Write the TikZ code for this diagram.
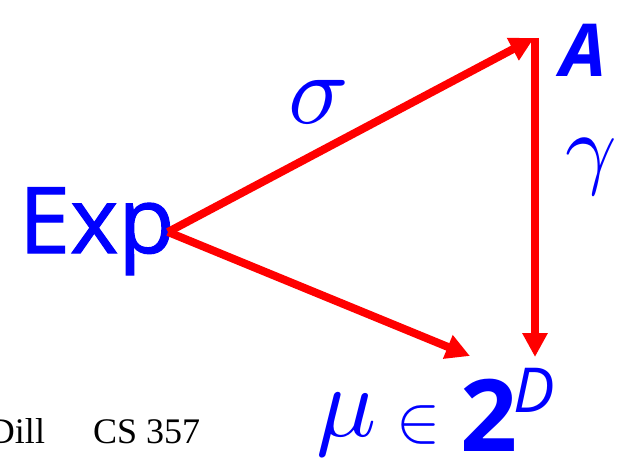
\documentclass[tikz,border=0pt]{standalone}
\usepackage{unicode-math}
\setmainfont{Liberation Serif}
\setmathfont{Latin Modern Math}
\newfontfamily\comic{Open Sans}
\newfontfamily\comicfb[FakeBold=1.2]{Open Sans}
\usetikzlibrary{arrows.meta}
\definecolor{myblue}{RGB}{0,0,255}
\definecolor{myred}{RGB}{255,0,0}
\tikzset{
  arr/.style={draw=myred, line width=8pt, -{Triangle[length=24pt,width=24pt]}},
  lbl/.style={inner sep=0pt, outer sep=0pt, text=myblue},
  foot/.style={inner sep=0pt, outer sep=0pt, text=black, font=\fontsize{36}{38}\selectfont}
}
\begin{document}
\begin{tikzpicture}[x=1pt,y=-1pt]
\useasboundingbox (0,0) rectangle (617,457);
\node[lbl, anchor=base west, font=\comicfb\fontsize{92}{96}\selectfont] (exp) at (19,253) {Exp};
\node[lbl, anchor=base west, font=\comic\bfseries\itshape\fontsize{73}{76}\selectfont] (A) at (560,77) {A};
\node[lbl] (sigma) at (318,103) {\fontsize{100}{100}\selectfont$\sigma$};
\node[lbl, anchor=base west] (gamma) at (565,177) {\fontsize{90}{90}\selectfont$\gamma$};
\node[lbl, anchor=base west] (mu) at (316,436) {\fontsize{100}{100}\selectfont$\mu$};
\node[lbl, anchor=base west] (in) at (396,441) {\fontsize{66}{66}\selectfont$\in$};
\node[lbl, anchor=base west, font=\comic\bfseries\fontsize{100}{100}\selectfont] (two) at (460,451) {2};
\node[lbl, anchor=base west, font=\comic\itshape\fontsize{62}{62}\selectfont] (D) at (513,412) {D};
\node[foot, anchor=base east] (dill) at (45,443) {Dill};
\node[foot, anchor=base west] (cs) at (93,443) {CS 357};
\coordinate (src) at (168,232);
\coordinate (atop) at (534,38);
\coordinate (vtop) at (535,38);
\coordinate (vbot) at (535,357);
\coordinate (mtip) at (470,356);
\draw[arr] (src) -- (atop);
\draw[arr] (src) -- (mtip);
\draw[arr] (vtop) -- (vbot);
\end{tikzpicture}
\end{document}
